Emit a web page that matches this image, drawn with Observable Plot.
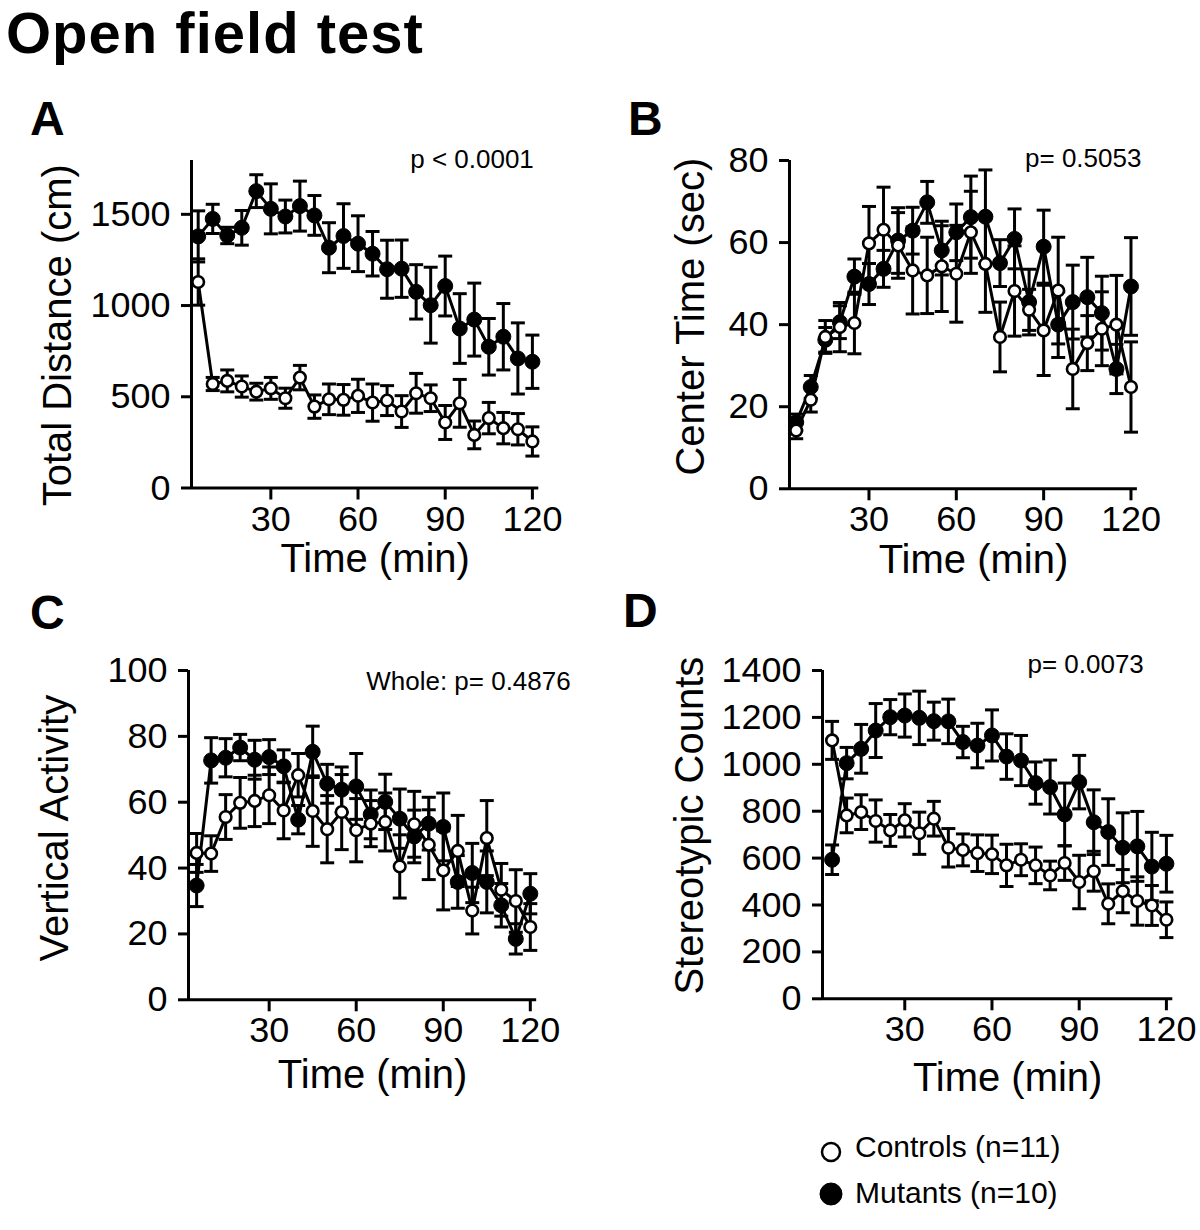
<!DOCTYPE html>
<html>
<head>
<meta charset="utf-8">
<script src="https://cdn.jsdelivr.net/npm/d3@7"></script>
<script src="https://cdn.jsdelivr.net/npm/@observablehq/plot@0.6"></script>
<style>
  body { margin: 0; background: #fff; }
  #page { position: relative; width: 1200px; height: 1230px; overflow: hidden; background: #fff;
          font-family: "Liberation Sans", Arial, Helvetica, sans-serif; color: #000; }
  #page svg.panel { position: absolute; overflow: visible; }
  #overlay { position: absolute; left: 0; top: 0; }
</style>
</head>
<body>
<div id="page"></div>
<script>
// ---------- data ----------
const time = [5, 10, 15, 20, 25, 30, 35, 40, 45, 50, 55, 60, 65, 70, 75, 80, 85, 90, 95, 100, 105, 110, 115, 120];

// A: Total Distance (cm)
const distMutants    = [1379, 1475, 1384, 1426, 1627, 1530, 1488, 1545, 1494, 1317, 1381, 1339, 1284, 1199, 1202, 1075, 1002, 1107, 874, 923, 774, 829, 710, 692];
const distMutantsSem = [140, 80, 45, 95, 90, 137, 90, 137, 109, 137, 177, 153, 122, 159, 157, 149, 208, 164, 191, 200, 155, 182, 195, 146];
const distControls    = [1129, 570, 587, 556, 528, 546, 492, 605, 446, 486, 483, 505, 468, 479, 419, 519, 492, 359, 464, 291, 383, 328, 322, 255];
const distControlsSem = [127, 36, 60, 58, 46, 60, 55, 67, 64, 84, 84, 91, 102, 82, 87, 109, 73, 93, 131, 76, 86, 86, 86, 80];

// B: Center Time (sec)
const centerMutants    = [16.2, 24.8, 36.3, 40.6, 51.7, 49.9, 53.6, 60.5, 62.9, 69.8, 58.1, 62.5, 66.2, 66.3, 55.0, 60.9, 45.5, 59.0, 40.0, 45.5, 46.7, 42.8, 29.2, 49.3];
const centerMutantsSem = [2, 2.8, 3, 4, 4.3, 5, 4.5, 8, 5.7, 5.1, 6, 6.9, 10, 11.4, 5.7, 7.3, 8, 8.9, 8, 9, 9.7, 9, 6, 11.9];
const centerControls    = [14.2, 21.7, 37.0, 39.4, 40.4, 59.8, 63.1, 59.3, 53.2, 52.0, 54.2, 52.4, 62.5, 54.8, 37.0, 48.2, 43.6, 38.6, 48.3, 29.2, 35.5, 39.0, 40.0, 24.8];
const centerControlsSem = [2, 3, 4, 6, 7.5, 9, 10.4, 8, 10.6, 9.3, 11, 11.8, 10, 11.8, 8.5, 11, 5, 11, 13, 9.7, 6.7, 9, 12, 11];

// C: Vertical Activity
const vertMutants    = [34.7, 72.7, 73.5, 76.6, 72.9, 73.7, 70.9, 54.7, 75.3, 65.6, 63.8, 64.8, 56.3, 60.1, 55.0, 49.6, 53.5, 52.5, 35.8, 38.5, 35.8, 28.7, 18.5, 32.2];
const vertMutantsSem = [6.4, 6.9, 5.8, 4, 5.9, 5.3, 5, 4.3, 7.8, 5.9, 6.9, 10, 7.4, 8.4, 9, 8, 8, 10.3, 8, 9, 9.4, 6.6, 4.6, 6.1];
const vertControls    = [44.6, 44.4, 55.5, 59.8, 60.4, 62.1, 57.5, 68.2, 57.3, 51.8, 57.0, 51.5, 53.5, 54.0, 40.5, 53.3, 47.1, 39.3, 45.2, 27.1, 49.1, 33.4, 30.0, 22.1];
const vertControlsSem = [5.9, 5.4, 6.8, 7.7, 7.8, 8.6, 8.6, 6.6, 10.7, 10.2, 11.4, 9.6, 7, 8.8, 9.6, 10, 10.6, 12, 10.8, 7.1, 11.4, 8, 9.5, 7.1];

// D: Stereotypic Counts
const stereoMutants    = [593, 1005, 1066, 1144, 1201, 1208, 1198, 1184, 1183, 1095, 1080, 1123, 1033, 1016, 920, 903, 786, 924, 753, 711, 644, 650, 564, 576];
const stereoMutantsSem = [63, 67, 104, 115, 75, 92, 114, 81, 95, 67, 95, 109, 97, 107, 90, 115, 134, 114, 138, 142, 149, 149, 146, 121];
const stereoControls    = [1102, 782, 796, 758, 718, 761, 706, 768, 644, 635, 621, 616, 569, 593, 569, 526, 579, 498, 544, 405, 459, 417, 398, 337];
const stereoControlsSem = [81, 74, 74, 90, 68, 71, 90, 74, 82, 68, 78, 82, 90, 68, 78, 61, 74, 114, 85, 85, 92, 103, 85, 76];

// tick labels
const xTicks = [30, 60, 90, 120];
const ticksA = [0, 500, 1000, 1500];
const ticksB = [0, 20, 40, 60, 80];
const ticksC = [0, 20, 40, 60, 80, 100];
const ticksD = [0, 200, 400, 600, 800, 1000, 1200, 1400];

const xLabel = "Time (min)";
const legendControls = "Controls (n=11)";
const legendMutants = "Mutants (n=10)";

// ---------- drawing ----------
const FONT = '"Liberation Sans", Arial, Helvetica, sans-serif';
const page = document.getElementById("page");

const capSymbol = {
  draw(context, size) {
    const w = Math.sqrt(size / Math.PI);
    context.moveTo(-w, 0);
    context.lineTo(w, 0);
  }
};

function rows(means, sems) {
  return time.map((t, i) => ({t, m: means[i], e: sems[i]}));
}

function series(data, filled) {
  return [
    Plot.line(data, {x: "t", y: "m", stroke: "black", strokeWidth: 3}),
    Plot.ruleX(data, {x: "t", y1: d => d.m - d.e, y2: d => d.m + d.e, stroke: "black", strokeWidth: 3}),
    Plot.dot(data, {x: "t", y: d => d.m + d.e, symbol: capSymbol, r: 7, stroke: "black", strokeWidth: 3, fill: "none"}),
    Plot.dot(data, {x: "t", y: d => d.m - d.e, symbol: capSymbol, r: 7, stroke: "black", strokeWidth: 3, fill: "none"}),
    filled
      ? Plot.dot(data, {x: "t", y: "m", r: 7.5, fill: "black", stroke: "black", strokeWidth: 1})
      : Plot.dot(data, {x: "t", y: "m", r: 5.8, fill: "white", stroke: "black", strokeWidth: 2.6})
  ];
}

function panel(cfg) {
  const ML = 200, MT = 40, MR = 60, MB = 110;
  const f = cfg.frame;
  const width = ML + (f.right - f.left) + MR;
  const height = MT + (f.bottom - f.top) + MB;
  const svg = Plot.plot({
    width, height,
    marginLeft: ML, marginTop: MT, marginRight: MR, marginBottom: MB,
    style: {fontFamily: FONT, fontSize: "36px", color: "black", background: "transparent", overflow: "visible"},
    x: {domain: cfg.xDomain},
    y: {domain: cfg.yDomain},
    marks: [
      Plot.axisX({ticks: xTicks, tickSize: 12, tickPadding: 5, strokeWidth: 3, label: null, tickFormat: d => String(d)}),
      Plot.axisY({ticks: cfg.yTicks, tickSize: 10, tickPadding: 11, strokeWidth: 3, label: null, tickFormat: d => String(d)}),
      Plot.ruleX([cfg.xDomain[0]], {stroke: "black", strokeWidth: 3}),
      Plot.ruleY([0], {stroke: "black", strokeWidth: 3}),
      ...series(rows(cfg.mut, cfg.mutSem), true),
      ...series(rows(cfg.ctl, cfg.ctlSem), false),
      Plot.text([cfg.yLabel], {frameAnchor: "left", rotate: -90, textAnchor: "middle", lineAnchor: "middle",
                               dx: cfg.yLabelDx, dy: cfg.yLabelDy, fontSize: 40, fill: "black"}),
      Plot.text([xLabel], {frameAnchor: "bottom", textAnchor: "middle", lineAnchor: "bottom",
                           dx: 10, dy: cfg.xLabelDy, fontSize: 40, fill: "black"}),
      Plot.text([cfg.pText], {frameAnchor: "top-right", textAnchor: "end", lineAnchor: "bottom",
                              dx: cfg.pDx, dy: cfg.pDy, fontSize: 26, fill: "black"})
    ]
  });
  svg.classList.add("panel");
  svg.style.left = (f.left - ML) + "px";
  svg.style.top = (f.top - MT) + "px";
  page.appendChild(svg);
}

panel({
  frame: {left: 190.7, top: 160, right: 538, bottom: 487.5},
  xDomain: [2.7, 122.2], yDomain: [0, 1795], yTicks: ticksA,
  yLabel: "Total Distance (cm)", yLabelDx: -133, yLabelDy: 11, xLabelDy: 84,
  pText: "p < 0.0001", pDx: -5, pDy: 8,
  mut: distMutants, mutSem: distMutantsSem, ctl: distControls, ctlSem: distControlsSem
});
panel({
  frame: {left: 788.5, top: 160, right: 1136.4, bottom: 488.3},
  xDomain: [2.7, 122.2], yDomain: [0, 80], yTicks: ticksB,
  yLabel: "Center Time (sec)", yLabelDx: -98, yLabelDy: -8, xLabelDy: 84,
  pText: "p= 0.5053", pDx: 4, pDy: 7,
  mut: centerMutants, mutSem: centerMutantsSem, ctl: centerControls, ctlSem: centerControlsSem
});
panel({
  frame: {left: 188.3, top: 670, right: 536.5, bottom: 999.3},
  xDomain: [2.2, 122.2], yDomain: [0, 100], yTicks: ticksC,
  yLabel: "Vertical Activity", yLabelDx: -133, yLabelDy: -7, xLabelDy: 88,
  pText: "Whole: p= 0.4876", pDx: 34, pDy: 20,
  mut: vertMutants, mutSem: vertMutantsSem, ctl: vertControls, ctlSem: vertControlsSem
});
panel({
  frame: {left: 821.7, top: 670, right: 1172, bottom: 998.3},
  xDomain: [1.7, 122.2], yDomain: [0, 1400], yTicks: ticksD,
  yLabel: "Stereotypic Counts", yLabelDx: -132, yLabelDy: -9, xLabelDy: 92,
  pText: "p= 0.0073", pDx: -29, pDy: 3,
  mut: stereoMutants, mutSem: stereoMutantsSem, ctl: stereoControls, ctlSem: stereoControlsSem
});

// ---------- title, panel letters, legend ----------
const NS = "http://www.w3.org/2000/svg";
const overlay = document.createElementNS(NS, "svg");
overlay.setAttribute("id", "overlay");
overlay.setAttribute("width", 1200);
overlay.setAttribute("height", 1230);
overlay.style.fontFamily = FONT;
page.insertBefore(overlay, page.firstChild);

function addText(str, x, y, size, weight, extra) {
  const t = document.createElementNS(NS, "text");
  t.setAttribute("x", x); t.setAttribute("y", y);
  t.setAttribute("font-size", size);
  t.setAttribute("font-weight", weight);
  t.setAttribute("fill", "black");
  if (extra) for (const k in extra) t.setAttribute(k, extra[k]);
  t.textContent = str;
  overlay.appendChild(t);
}
function addCircle(cx, cy, r, fill, sw) {
  const c = document.createElementNS(NS, "circle");
  c.setAttribute("cx", cx); c.setAttribute("cy", cy); c.setAttribute("r", r);
  c.setAttribute("fill", fill); c.setAttribute("stroke", "black"); c.setAttribute("stroke-width", sw);
  overlay.appendChild(c);
}

addText("Open field test", 6, 53, 58, "bold", {"letter-spacing": "1"});
addText("A", 30, 135, 48, "bold");
addText("B", 628, 135, 48, "bold");
addText("C", 30, 629, 48, "bold");
addText("D", 623, 627, 48, "bold");

addCircle(831, 1152, 9, "white", 2.5);
addText(legendControls, 855, 1157, 30, "normal");
addCircle(831, 1194, 11, "black", 1);
addText(legendMutants, 855, 1203, 30, "normal");
</script>
</body>
</html>
